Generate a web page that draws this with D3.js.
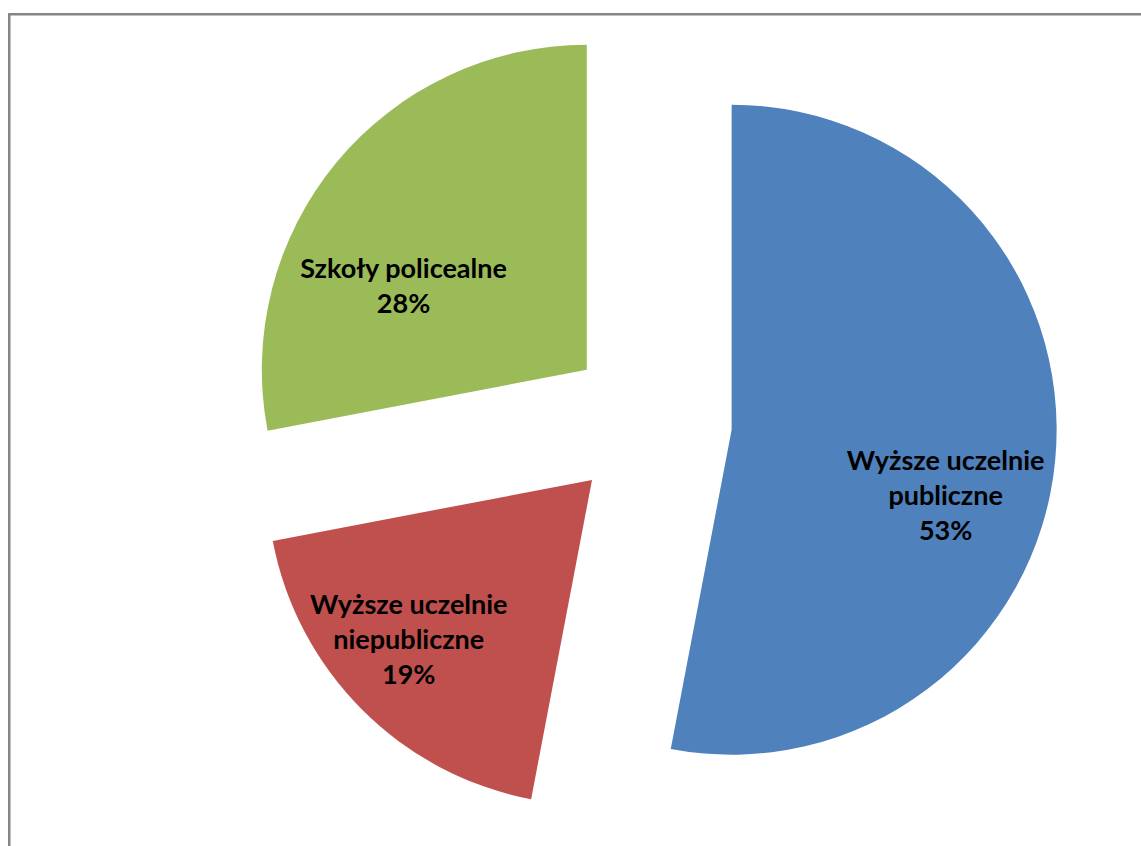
<!DOCTYPE html>
<html>
<head>
<meta charset="utf-8">
<script src="https://cdn.jsdelivr.net/npm/d3@7"></script>
<style>
  html, body { margin: 0; padding: 0; background: #fff; }
  svg { display: block; }
  .lbl { font-family: Lato, "Liberation Sans", sans-serif; font-weight: bold; fill: #000; }
</style>
</head>
<body>
<svg id="chart" width="1141" height="846"></svg>
<script>
// ---- data ----
const categories = ["Wyższe uczelnie publiczne", "Wyższe uczelnie niepubliczne", "Szkoły policealne"];
const values = [53, 19, 28];
const labelLines = [["Wyższe uczelnie", "publiczne"], ["Wyższe uczelnie", "niepubliczne"], ["Szkoły policealne"]];
const percentLabels = ["53%", "19%", "28%"];
const colors = ["#4F81BD", "#C0504D", "#9BBB59"];

// ---- layout ----
const W = 1141, H = 846;
const cx = 650, cy = 422, radius = 325, explode = 82;
const fontSize = 27, lineH = 35;
// label placement tweaks (Excel best-fit positions)
const labelNudge = [[-6, 45], [-27, 3], [-13, 57]];

const svg = d3.select("#chart");

// chart-area frame
svg.append("rect")
  .attr("x", 9.25).attr("y", 14.25)
  .attr("width", W + 20).attr("height", H + 20)
  .attr("fill", "#fff").attr("stroke", "#868686").attr("stroke-width", 2.5);

const pie = d3.pie().sort(null).value(d => d.value);
const arcs = pie(categories.map((c, i) => ({ cat: c, value: values[i], i })));

const arc = d3.arc().innerRadius(0).outerRadius(radius);
const labelArc = d3.arc().innerRadius(radius * 0.68).outerRadius(radius * 0.68);

const g = svg.append("g").attr("transform", `translate(${cx},${cy})`);

const slice = g.selectAll("g.slice").data(arcs).join("g")
  .attr("class", "slice")
  .attr("transform", d => {
    const mid = (d.startAngle + d.endAngle) / 2;
    return `translate(${explode * Math.sin(mid)},${-explode * Math.cos(mid)})`;
  });

slice.append("path")
  .attr("d", arc)
  .attr("fill", (d, i) => colors[i]);

slice.each(function (d, i) {
  const [lx, ly] = labelArc.centroid(d);
  const x = lx + labelNudge[i][0], y = ly + labelNudge[i][1];
  const lines = labelLines[i].concat([percentLabels[i]]);
  const n = lines.length;
  const t = d3.select(this).append("text")
    .attr("class", "lbl")
    .attr("text-anchor", "middle")
    .style("font-size", fontSize + "px");
  lines.forEach((ln, k) => {
    t.append("tspan")
      .attr("x", x)
      .attr("y", y + (k - (n - 1) / 2) * lineH + fontSize * 0.36)
      .text(ln);
  });
});
</script>
</body>
</html>
